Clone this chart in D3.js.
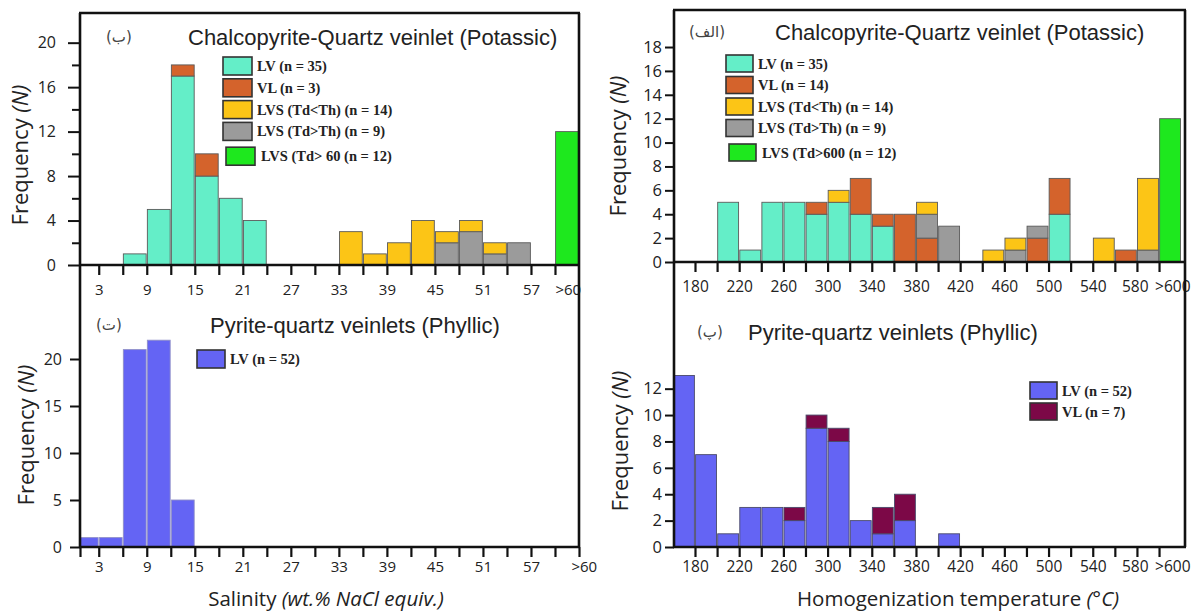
<!DOCTYPE html>
<html>
<head>
<meta charset="utf-8">
<script src="https://cdn.jsdelivr.net/npm/d3@7/dist/d3.min.js"></script>
<style>
body { margin: 0; background: #fff; }
svg { display: block; }
.tick text { font-family: "Open Sans", sans-serif; fill: #222; }
.title { font-family: "Liberation Sans", Arial, sans-serif; font-size: 22px; fill: #222; }
.panel { font-family: "DejaVu Sans", sans-serif; font-size: 15px; fill: #444; }
.ylab { font-family: "Open Sans", sans-serif; font-size: 22px; fill: #222; }
.xlab { font-family: "Open Sans", sans-serif; font-size: 20.5px; fill: #222; }
.leg { font-family: "Liberation Serif", "Times New Roman", serif; font-weight: bold; font-size: 14.5px; fill: #222; }
</style>
</head>
<body>
<svg id="chart" width="1195" height="614"></svg>
<script>
// ---- data ----
// salinity (wt.% NaCl), bins of 3, potassic
var salStarts = [6, 9, 12, 15, 18, 21, 24, 27, 30, 33, 36, 39, 42, 45, 48, 51, 54, 57, 60];
var salLV     = [1, 5, 17, 8, 6, 4, 0, 0, 0, 0, 0, 0, 0, 0, 0, 0, 0, 0, 0];
var salVL     = [0, 0, 1, 2, 0, 0, 0, 0, 0, 0, 0, 0, 0, 0, 0, 0, 0, 0, 0];
var salLVSgt  = [0, 0, 0, 0, 0, 0, 0, 0, 0, 0, 0, 0, 0, 2, 3, 1, 2, 0, 0];
var salLVSlt  = [0, 0, 0, 0, 0, 0, 0, 0, 0, 3, 1, 2, 4, 1, 1, 1, 0, 0, 0];
var salLVS60  = [0, 0, 0, 0, 0, 0, 0, 0, 0, 0, 0, 0, 0, 0, 0, 0, 0, 0, 12];

// homogenization temperature (°C), bins of 20, potassic
var thStarts = [200, 220, 240, 260, 280, 300, 320, 340, 360, 380, 400, 420, 440, 460, 480, 500, 520, 540, 560, 580, 600];
var thLV     = [5, 1, 5, 5, 4, 5, 4, 3, 0, 0, 0, 0, 0, 0, 0, 4, 0, 0, 0, 0, 0];
var thVL     = [0, 0, 0, 0, 1, 0, 3, 1, 4, 2, 0, 0, 0, 0, 2, 3, 0, 0, 1, 0, 0];
var thLVSgt  = [0, 0, 0, 0, 0, 0, 0, 0, 0, 2, 3, 0, 0, 1, 1, 0, 0, 0, 0, 1, 0];
var thLVSlt  = [0, 0, 0, 0, 0, 1, 0, 0, 0, 1, 0, 0, 1, 1, 0, 0, 0, 2, 0, 6, 0];
var thLVS600 = [0, 0, 0, 0, 0, 0, 0, 0, 0, 0, 0, 0, 0, 0, 0, 0, 0, 0, 0, 0, 12];

// phyllic
var phSalStarts = [0, 3, 6, 9, 12];
var phSalLV     = [1, 1, 21, 22, 5];
var phThStarts  = [160, 180, 200, 220, 240, 260, 280, 300, 320, 340, 360, 380, 400];
var phThLV      = [13, 7, 1, 3, 3, 2, 9, 8, 2, 1, 2, 0, 1];
var phThVL      = [0, 0, 0, 0, 0, 1, 1, 1, 0, 2, 2, 0, 0];

// tick labels
var salTickLabels = ["3", "9", "15", "21", "27", "33", "39", "45", "51", "57", ">60"];
var salTickAt     = [3, 9, 15, 21, 27, 33, 39, 45, 51, 57, 61.6];
var salTickAtLow  = [3, 9, 15, 21, 27, 33, 39, 45, 51, 57, 63.6];
var thTickLabels  = ["180", "220", "260", "300", "340", "380", "420", "460", "500", "540", "580", ">600"];
var thTickAt      = [180, 220, 260, 300, 340, 380, 420, 460, 500, 540, 578, 612];

// legends
var legK_sal = ["LV (n = 35)", "VL (n = 3)", "LVS (Td<Th) (n = 14)", "LVS (Td>Th) (n = 9)", "LVS (Td> 60 (n = 12)"];
var legK_th  = ["LV (n = 35)", "VL (n = 14)", "LVS (Td<Th) (n = 14)", "LVS (Td>Th) (n = 9)", "LVS (Td>600 (n = 12)"];
var legP_sal = ["LV (n = 52)"];
var legP_th  = ["LV (n = 52)", "VL (n = 7)"];

var colLV = "#64eec8", colVL = "#d4632c", colLt = "#fcc516", colGt = "#9b9b9b", colGreen = "#1ee81e";
var colBlue = "#6464f4", colMaroon = "#7c0847";

var svg = d3.select("#chart");

function panel(cfg) {
  var g = svg.append("g");
  var x = d3.scaleLinear().domain(cfg.xDomain).range([cfg.left, cfg.right]);
  var y = d3.scaleLinear().domain([0, cfg.yMax]).range([cfg.bottom, cfg.top]);

  var clipId = "clip" + cfg.id;
  svg.append("clipPath").attr("id", clipId).append("rect")
    .attr("x", cfg.left).attr("y", cfg.top)
    .attr("width", cfg.right - cfg.left).attr("height", cfg.bottom - cfg.top);

  var rows = cfg.starts.map(function (s, i) {
    var o = { start: s };
    cfg.series.forEach(function (ser, j) { o["k" + j] = ser[i]; });
    return o;
  });
  var keys = cfg.series.map(function (d, j) { return "k" + j; });
  var stacked = d3.stack().keys(keys)(rows);

  var bars = g.append("g").attr("clip-path", "url(#" + clipId + ")");
  stacked.forEach(function (layer, j) {
    bars.selectAll(null)
      .data(layer.filter(function (d) { return d[1] > d[0]; }))
      .enter().append("rect")
      .attr("x", function (d) { return x(d.data.start) + 0.6; })
      .attr("width", function (d) { return x(d.data.start + cfg.bin) - x(d.data.start) - 1.2; })
      .attr("y", function (d) { return y(d[1]); })
      .attr("height", function (d) { return y(d[0]) - y(d[1]); })
      .attr("fill", cfg.colors[j])
      .attr("stroke", cfg.barStroke)
      .attr("stroke-width", 0.9);
  });

  // y axis
  var ya = g.append("g").attr("transform", "translate(" + cfg.left + ",0)")
    .call(d3.axisLeft(y).tickValues(cfg.yTicks).tickSize(cfg.yTickSize).tickPadding(cfg.yPad)
      .tickFormat(d3.format("d")));
  ya.select(".domain").remove();
  ya.selectAll("line").attr("stroke", "#111").attr("stroke-width", 2);
  ya.selectAll("text").style("font-size", cfg.yFont + "px");
  if (cfg.yMinor) {
    var ym = g.append("g").attr("transform", "translate(" + cfg.left + ",0)")
      .call(d3.axisLeft(y).tickValues(cfg.yMinor).tickSize(8).tickFormat(""));
    ym.select(".domain").remove();
    ym.selectAll("line").attr("stroke", "#111").attr("stroke-width", 2);
  }

  // x axis ticks
  var xa = g.append("g").attr("transform", "translate(0," + cfg.bottom + ")")
    .call(d3.axisBottom(x).tickValues(cfg.xTicks).tickSize(10).tickFormat(""));
  xa.select(".domain").remove();
  xa.selectAll("line").attr("stroke", "#111").attr("stroke-width", 2.2);

  var xl = g.append("g").attr("transform", "translate(0," + cfg.bottom + ")")
    .call(d3.axisBottom(x).tickValues(cfg.labelAt).tickSize(0).tickPadding(cfg.xPad)
      .tickFormat(function (d, i) { return cfg.labels[i]; }));
  xl.select(".domain").remove();
  xl.selectAll("text").style("font-size", cfg.xFont + "px");

  // frame
  var fr = g.append("g").attr("stroke", "#111").attr("stroke-width", 2.6).attr("fill", "none");
  fr.append("line").attr("x1", cfg.left - 1).attr("x2", cfg.right + 1).attr("y1", cfg.bottom).attr("y2", cfg.bottom);
  fr.append("line").attr("x1", cfg.left).attr("x2", cfg.left).attr("y1", cfg.top).attr("y2", cfg.bottom);
  fr.append("line").attr("x1", cfg.right).attr("x2", cfg.right).attr("y1", cfg.top).attr("y2", cfg.bottom);
  if (cfg.topLine) {
    fr.append("line").attr("x1", cfg.left - 1).attr("x2", cfg.right + 1).attr("y1", cfg.top).attr("y2", cfg.top);
  }

  // titles
  g.append("text").attr("class", "panel").attr("x", cfg.panelX).attr("y", cfg.titleY + 5).text(cfg.panelLabel);
  g.append("text").attr("class", "title").attr("x", cfg.titleX).attr("y", cfg.titleY + 8).text(cfg.title);

  // y label
  var yl = g.append("text").attr("class", "ylab")
    .attr("transform", "translate(" + cfg.yLabX + "," + cfg.yLabY + ") rotate(-90)")
    .attr("text-anchor", "middle");
  yl.append("tspan").text("Frequency ");
  yl.append("tspan").style("font-style", "italic").text("(N)");

  // legend
  var lg = g.append("g");
  cfg.legend.forEach(function (lab, i) {
    var ox = cfg.legendShift && i === cfg.legend.length - 1 ? cfg.legendShift : 0;
    var ry = cfg.legY + i * cfg.legStep + (ox ? 3 : 0);
    lg.append("rect").attr("x", cfg.legX + (ox ? ox - 1 : 0)).attr("y", ry)
      .attr("width", cfg.swW).attr("height", cfg.swH)
      .attr("fill", cfg.colorsLeg[i]).attr("stroke", "#333").attr("stroke-width", 1.6);
    lg.append("text").attr("class", "leg")
      .attr("x", cfg.legX + cfg.swW + 5 + ox).attr("y", ry + cfg.swH / 2 + 5).text(lab);
  });
}

var salTicks = d3.range(3, 61, 3);
var thTicks = d3.range(180, 601, 20);

panel({
  id: "a", left: 80, right: 579, top: 13, bottom: 265,
  xDomain: [0.66, 63], yMax: 22.67, bin: 3,
  starts: salStarts, series: [salLV, salVL, salLVSgt, salLVSlt, salLVS60],
  colors: [colLV, colVL, colGt, colLt, colGreen], barStroke: "#5a5a5a",
  yTicks: [0, 4, 8, 12, 16, 20], yMinor: [2, 6, 10, 14, 18], yTickSize: 12, yPad: 12, yFont: 16,
  xTicks: salTicks, labelAt: salTickAt, labels: salTickLabels, xPad: 19, xFont: 15,
  topLine: true,
  panelLabel: "(ب)", panelX: 106, title: "Chalcopyrite-Quartz veinlet (Potassic)", titleX: 188, titleY: 37,
  yLabX: 28, yLabY: 155,
  legend: legK_sal, colorsLeg: [colLV, colVL, colLt, colGt, colGreen],
  legX: 223, legY: 57, legStep: 21.8, swW: 29, swH: 18, legendShift: 4
});

panel({
  id: "b", left: 80, right: 579, top: 265, bottom: 547,
  xDomain: [0.66, 63], yMax: 30, bin: 3,
  starts: phSalStarts, series: [phSalLV],
  colors: [colBlue], barStroke: "#8f8fc8",
  yTicks: [0, 5, 10, 15, 20], yTickSize: 10, yPad: 8, yFont: 16,
  xTicks: [0.66].concat(salTicks).concat([63]), labelAt: salTickAtLow, labels: salTickLabels, xPad: 14, xFont: 15,
  panelLabel: "(ت)", panelX: 96, title: "Pyrite-quartz veinlets (Phyllic)", titleX: 210, titleY: 325,
  yLabX: 34, yLabY: 435,
  legend: legP_sal, colorsLeg: [colBlue],
  legX: 197, legY: 350, legStep: 21, swW: 28, swH: 18
});

panel({
  id: "c", left: 674, right: 1185, top: 10, bottom: 262,
  xDomain: [161, 623.5], yMax: 21.1, bin: 20,
  starts: thStarts, series: [thLV, thVL, thLVSgt, thLVSlt, thLVS600],
  colors: [colLV, colVL, colGt, colLt, colGreen], barStroke: "#5a5a5a",
  yTicks: [0, 2, 4, 6, 8, 10, 12, 14, 16, 18], yTickSize: 9, yPad: 3, yFont: 16.5,
  xTicks: thTicks, labelAt: thTickAt, labels: thTickLabels, xPad: 19, xFont: 15.5,
  topLine: true,
  panelLabel: "(الف)", panelX: 689, title: "Chalcopyrite-Quartz veinlet (Potassic)", titleX: 775, titleY: 32,
  yLabX: 626, yLabY: 146,
  legend: legK_th, colorsLeg: [colLV, colVL, colLt, colGt, colGreen],
  legX: 726, legY: 55, legStep: 21.5, swW: 27, swH: 17, legendShift: 4
});

panel({
  id: "d", left: 674, right: 1185, top: 262, bottom: 547,
  xDomain: [161, 623.5], yMax: 21.6, bin: 20,
  starts: phThStarts, series: [phThLV, phThVL],
  colors: [colBlue, colMaroon], barStroke: "#4a4a6a",
  yTicks: [0, 2, 4, 6, 8, 10, 12], yTickSize: 9, yPad: 3, yFont: 16.5,
  xTicks: thTicks, labelAt: thTickAt, labels: thTickLabels, xPad: 14, xFont: 15.5,
  panelLabel: "(پ)", panelX: 697, title: "Pyrite-quartz veinlets (Phyllic)", titleX: 748, titleY: 332,
  yLabX: 628, yLabY: 441,
  legend: legP_th, colorsLeg: [colBlue, colMaroon],
  legX: 1030, legY: 382, legStep: 21, swW: 27, swH: 17
});

// x axis titles
var xt1 = svg.append("text").attr("class", "xlab").attr("x", 326).attr("y", 606).attr("text-anchor", "middle");
xt1.append("tspan").text("Salinity ");
xt1.append("tspan").style("font-style", "italic").text("(wt.% NaCl equiv.)");
var xt2 = svg.append("text").attr("class", "xlab").attr("x", 958).attr("y", 606).attr("text-anchor", "middle");
xt2.append("tspan").text("Homogenization temperature ");
xt2.append("tspan").style("font-style", "italic").text("(°C)");
</script>
</body>
</html>
